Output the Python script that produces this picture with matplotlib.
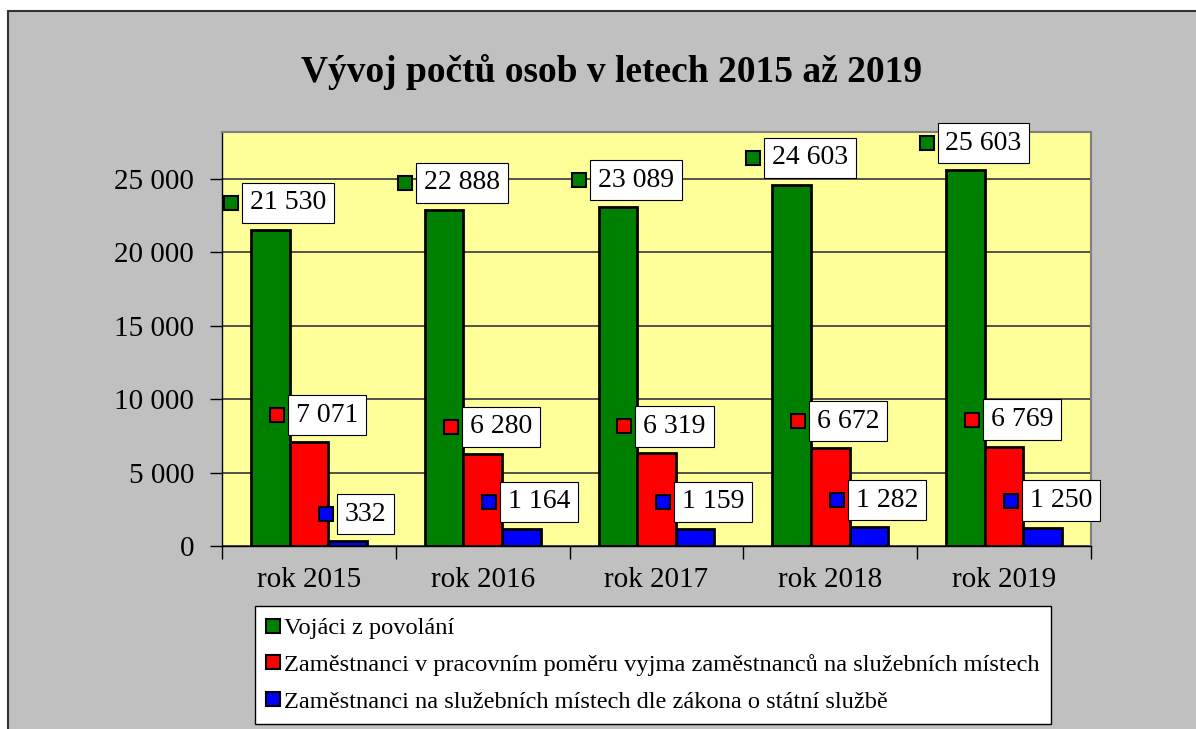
import matplotlib.pyplot as plt
import numpy as np
from matplotlib.patches import Rectangle
from matplotlib.lines import Line2D

# data
years = ['rok 2015', 'rok 2016', 'rok 2017', 'rok 2018', 'rok 2019']
vojaci = [21530, 22888, 23089, 24603, 25603]
zam_pomer = [7071, 6280, 6319, 6672, 6769]
zam_sluz = [332, 1164, 1159, 1282, 1250]
series_names = ['Vojáci z povolání',
                'Zaměstnanci v pracovním poměru vyjma zaměstnanců na služebních místech',
                'Zaměstnanci na služebních místech dle zákona o státní službě']
colors = ['#008000', '#ff0000', '#0000ff']

plt.rcParams['font.family'] = ['Liberation Serif', 'DejaVu Serif']

W, H = 1196, 729
fig = plt.figure(figsize=(W / 100, H / 100), dpi=100, facecolor='white')

# grey chart area with a dark frame
fig.patches.append(Rectangle((8 / W, -0.1), 1.2, (729 - 11) / H + 0.1,
                             transform=fig.transFigure, facecolor='#c0c0c0',
                             edgecolor='#333333', linewidth=1.5, zorder=-10))

ax = fig.add_axes([222 / W, (H - 546) / H, 869 / W, 414 / H])
ax.set_facecolor('#ffff99')

x = np.arange(len(years))
bw = 1 / 4.5
all_series = [vojaci, zam_pomer, zam_sluz]
for i, (vals, c) in enumerate(zip(all_series, colors)):
    ax.bar(x + (i - 1) * bw, vals, bw, color=c, edgecolor='black',
           linewidth=2, zorder=3)

ax.set_xlim(-0.5, 4.5)
ax.set_ylim(0, 28200)
ax.set_yticks(np.arange(0, 25001, 5000))
ax.set_yticklabels([f'{v:,}'.replace(',', ' ') for v in range(0, 25001, 5000)],
                   fontsize=21)
ax.set_xticks(x)
ax.set_xticklabels(years, fontsize=21)
ax.set_xticks(np.arange(-0.5, 4.6, 1), minor=True)
ax.tick_params(axis='x', which='major', length=0, pad=15)
ax.tick_params(axis='x', which='minor', length=9, width=1, direction='out')
ax.tick_params(axis='y', length=9, width=1, direction='out', pad=11)
ax.grid(axis='y', color='#444444', linewidth=1.3, zorder=1)
ax.set_axisbelow(True)
for s in ['top', 'right']:
    ax.spines[s].set_color('#808080')
    ax.spines[s].set_linewidth(1.5)
for s in ['left', 'bottom']:
    ax.spines[s].set_color('black')
    ax.spines[s].set_linewidth(1)

fig.text(612 / W, 1 - 72 / H, 'Vývoj počtů osob v letech 2015 až 2019',
         ha='center', va='center', fontsize=27, fontweight='bold')

# data labels with legend keys
texts = []
for i, (vals, c) in enumerate(zip(all_series, colors)):
    for j, v in enumerate(vals):
        t = ax.annotate(f'{v:,}'.replace(',', ' '),
                        xy=(x[j] + (i - 1) * bw, v), xytext=(18, 27),
                        textcoords='offset pixels', ha='center', va='center',
                        fontsize=20, zorder=6,
                        bbox=dict(boxstyle='square,pad=0.28', facecolor='white',
                                  edgecolor='black', linewidth=0.8))
        texts.append((t, c))

fig.canvas.draw()
renderer = fig.canvas.get_renderer()
for t, c in texts:
    bb = t.get_bbox_patch().get_window_extent(renderer)
    px = bb.x0 - 11
    py = (bb.y0 + bb.y1) / 2
    fig.add_artist(Line2D([px / W], [py / H], transform=fig.transFigure,
                          marker='s', markersize=9.5, markerfacecolor=c,
                          markeredgecolor='black', markeredgewidth=1.5,
                          linestyle='none', zorder=7))

handles = [Line2D([], [], marker='s', markersize=9.5, markerfacecolor=c,
                  markeredgecolor='black', markeredgewidth=1.5, linestyle='none')
           for c in colors]
leg = fig.legend(handles, series_names, loc='upper left',
                 bbox_to_anchor=(255 / W, 1 - 606 / H), fontsize=17.6,
                 frameon=True, fancybox=False, edgecolor='black', framealpha=1,
                 handlelength=0.6, handletextpad=0.15, borderpad=0.45,
                 labelspacing=0.6, borderaxespad=0)
leg.get_frame().set_linewidth(1)

fig.savefig('out.png', dpi=100, facecolor='white')
